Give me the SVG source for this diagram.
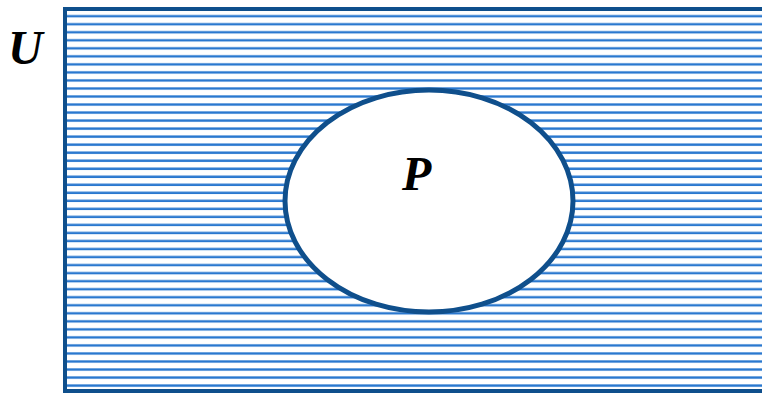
<svg xmlns="http://www.w3.org/2000/svg" width="762" height="393" viewBox="0 0 762 393">
<style>
.lbl{font-family:"Liberation Serif","DejaVu Serif",serif;font-weight:bold;font-style:italic;font-size:48px;fill:#000}
</style>
<defs>
<pattern id="hatch" patternUnits="userSpaceOnUse" x="0" y="12" width="20" height="8.03">
<rect x="0" y="3" width="20" height="2.4" fill="#2a78cf"/>
</pattern>
</defs>
<rect width="762" height="393" fill="#fff"/>
<g id="universe">
<rect x="65" y="9" width="720" height="382" fill="url(#hatch)" stroke="#0f4f8c" stroke-width="4"/>
<text class="lbl" x="8" y="64">U</text>
</g>
<g id="setP">
<ellipse cx="429" cy="201" rx="144" ry="111" fill="#fff" stroke="#0f4f8c" stroke-width="5"/>
<text class="lbl" x="402" y="190">P</text>
</g>
<g id="connectors"/>
</svg>
